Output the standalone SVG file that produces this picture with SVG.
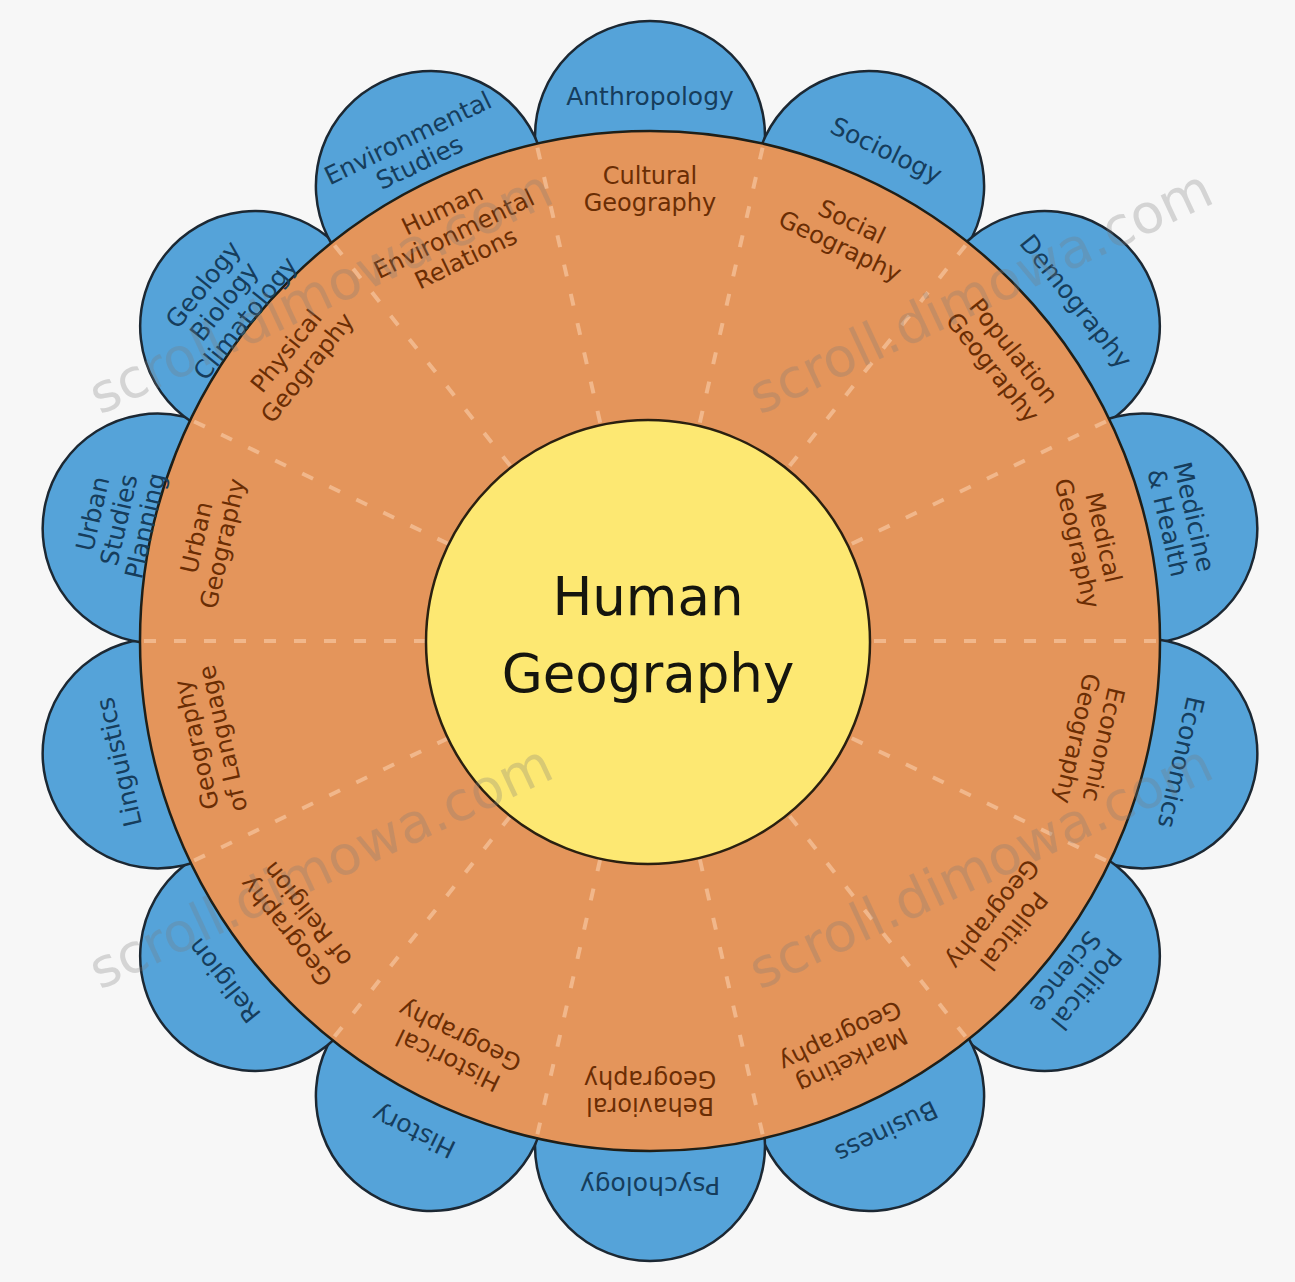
<svg xmlns="http://www.w3.org/2000/svg" width="1295" height="1282" viewBox="0 0 1295 1282">
<style>
.petal{fill:#55a3d9;stroke:#1c2833;stroke-width:2.5}
.pt{font-family:"DejaVu Sans",sans-serif;font-size:25px;fill:#163d5c;text-anchor:middle}
.ot{font-family:"DejaVu Sans",sans-serif;font-size:24px;fill:#6a2d04;text-anchor:middle}
.div{stroke:#f6c39b;stroke-width:4;stroke-dasharray:12 18;fill:none;stroke-opacity:0.75}
.wm{font-family:"DejaVu Sans",sans-serif;font-size:54px;fill:#7a7a7a;fill-opacity:0.28}
</style>
<rect width="1295" height="1282" fill="#f7f7f7"/>
<g id="petals">
<g id="p-anthropology"><circle class="petal" cx="650" cy="136" r="115" transform="rotate(0 650 641)"/></g>
<g id="p-sociology"><circle class="petal" cx="650" cy="136" r="115" transform="rotate(25.714 650 641)"/></g>
<g id="p-demography"><circle class="petal" cx="650" cy="136" r="115" transform="rotate(51.429 650 641)"/></g>
<g id="p-medicine"><circle class="petal" cx="650" cy="136" r="115" transform="rotate(77.143 650 641)"/></g>
<g id="p-economics"><circle class="petal" cx="650" cy="136" r="115" transform="rotate(102.857 650 641)"/></g>
<g id="p-political"><circle class="petal" cx="650" cy="136" r="115" transform="rotate(128.571 650 641)"/></g>
<g id="p-business"><circle class="petal" cx="650" cy="136" r="115" transform="rotate(154.286 650 641)"/></g>
<g id="p-psychology"><circle class="petal" cx="650" cy="136" r="115" transform="rotate(180 650 641)"/></g>
<g id="p-history"><circle class="petal" cx="650" cy="136" r="115" transform="rotate(205.714 650 641)"/></g>
<g id="p-religion"><circle class="petal" cx="650" cy="136" r="115" transform="rotate(231.429 650 641)"/></g>
<g id="p-linguistics"><circle class="petal" cx="650" cy="136" r="115" transform="rotate(257.143 650 641)"/></g>
<g id="p-urban"><circle class="petal" cx="650" cy="136" r="115" transform="rotate(282.857 650 641)"/></g>
<g id="p-geology"><circle class="petal" cx="650" cy="136" r="115" transform="rotate(308.571 650 641)"/></g>
<g id="p-environmental"><circle class="petal" cx="650" cy="136" r="115" transform="rotate(334.286 650 641)"/></g>
</g>
<g id="ring"><circle cx="650" cy="641" r="510" fill="#e4955b" stroke="#1f1f18" stroke-width="2.5"/></g>
<g id="dividers">
<line class="div" x1="650" y1="417" x2="650" y2="133" transform="rotate(12.857 650 641)"/>
<line class="div" x1="650" y1="417" x2="650" y2="133" transform="rotate(38.571 650 641)"/>
<line class="div" x1="650" y1="417" x2="650" y2="133" transform="rotate(64.286 650 641)"/>
<line class="div" x1="650" y1="417" x2="650" y2="133" transform="rotate(90 650 641)"/>
<line class="div" x1="650" y1="417" x2="650" y2="133" transform="rotate(115.714 650 641)"/>
<line class="div" x1="650" y1="417" x2="650" y2="133" transform="rotate(141.429 650 641)"/>
<line class="div" x1="650" y1="417" x2="650" y2="133" transform="rotate(167.143 650 641)"/>
<line class="div" x1="650" y1="417" x2="650" y2="133" transform="rotate(192.857 650 641)"/>
<line class="div" x1="650" y1="417" x2="650" y2="133" transform="rotate(218.571 650 641)"/>
<line class="div" x1="650" y1="417" x2="650" y2="133" transform="rotate(244.286 650 641)"/>
<line class="div" x1="650" y1="417" x2="650" y2="133" transform="rotate(270 650 641)"/>
<line class="div" x1="650" y1="417" x2="650" y2="133" transform="rotate(295.714 650 641)"/>
<line class="div" x1="650" y1="417" x2="650" y2="133" transform="rotate(321.429 650 641)"/>
<line class="div" x1="650" y1="417" x2="650" y2="133" transform="rotate(347.143 650 641)"/>
</g>
<g id="center"><circle cx="648" cy="642" r="222" fill="#fde872" stroke="#2a2010" stroke-width="2.5"/>
<text x="648" y="615" font-family="DejaVu Sans, sans-serif" font-size="53" fill="#15150e" text-anchor="middle">Human</text>
<text x="648" y="692" font-family="DejaVu Sans, sans-serif" font-size="53" fill="#15150e" text-anchor="middle">Geography</text>
</g>
<g id="petal-labels">
<g id="l-anthropology" transform="rotate(0 650 641)"><text class="pt" x="650" y="105">Anthropology</text></g>
<g id="l-sociology" transform="rotate(25.714 650 641)"><text class="pt" x="650" y="105">Sociology</text></g>
<g id="l-demography" transform="rotate(51.429 650 641)"><text class="pt" x="650" y="105">Demography</text></g>
<g id="l-medicine" transform="rotate(77.143 650 641)"><text class="pt" x="650" y="91.5">Medicine</text><text class="pt" x="650" y="118.5">&amp; Health</text></g>
<g id="l-economics" transform="rotate(102.857 650 641)"><text class="pt" x="650" y="105">Economics</text></g>
<g id="l-political" transform="rotate(128.571 650 641)"><text class="pt" x="650" y="91.5">Political</text><text class="pt" x="650" y="118.5">Science</text></g>
<g id="l-business" transform="rotate(154.286 650 641)"><text class="pt" x="650" y="105">Business</text></g>
<g id="l-psychology" transform="rotate(180 650 641)"><text class="pt" x="650" y="105">Psychology</text></g>
<g id="l-history" transform="rotate(205.714 650 641)"><text class="pt" x="650" y="105">History</text></g>
<g id="l-religion" transform="rotate(231.429 650 641)"><text class="pt" x="650" y="105">Religion</text></g>
<g id="l-linguistics" transform="rotate(257.143 650 641)"><text class="pt" x="650" y="105">Linguistics</text></g>
<g id="l-urban" transform="rotate(282.857 650 641)"><text class="pt" x="650" y="78">Urban</text><text class="pt" x="650" y="105">Studies</text><text class="pt" x="650" y="132">Planning</text></g>
<g id="l-geology" transform="rotate(308.571 650 641)"><text class="pt" x="650" y="78">Geology</text><text class="pt" x="650" y="105">Biology</text><text class="pt" x="650" y="132">Climatology</text></g>
<g id="l-environmental" transform="rotate(334.286 650 641)"><text class="pt" x="650" y="91.5">Environmental</text><text class="pt" x="650" y="118.5">Studies</text></g>
</g>
<g id="ring-labels">
<g id="s-cultural" transform="rotate(0 650 641)"><text class="ot" x="650" y="184">Cultural</text><text class="ot" x="650" y="211">Geography</text></g>
<g id="s-social" transform="rotate(25.714 650 641)"><text class="ot" x="650" y="184">Social</text><text class="ot" x="650" y="211">Geography</text></g>
<g id="s-population" transform="rotate(51.429 650 641)"><text class="ot" x="650" y="184">Population</text><text class="ot" x="650" y="211">Geography</text></g>
<g id="s-medical" transform="rotate(77.143 650 641)"><text class="ot" x="650" y="184">Medical</text><text class="ot" x="650" y="211">Geography</text></g>
<g id="s-economic" transform="rotate(102.857 650 641)"><text class="ot" x="650" y="184">Economic</text><text class="ot" x="650" y="211">Geography</text></g>
<g id="s-political" transform="rotate(128.571 650 641)"><text class="ot" x="650" y="184">Political</text><text class="ot" x="650" y="211">Geography</text></g>
<g id="s-marketing" transform="rotate(154.286 650 641)"><text class="ot" x="650" y="184">Marketing</text><text class="ot" x="650" y="211">Geography</text></g>
<g id="s-behavioral" transform="rotate(180 650 641)"><text class="ot" x="650" y="184">Behavioral</text><text class="ot" x="650" y="211">Geography</text></g>
<g id="s-historical" transform="rotate(205.714 650 641)"><text class="ot" x="650" y="184">Historical</text><text class="ot" x="650" y="211">Geography</text></g>
<g id="s-religion" transform="rotate(231.429 650 641)"><text class="ot" x="650" y="184">Geography</text><text class="ot" x="650" y="211">of Religion</text></g>
<g id="s-language" transform="rotate(257.143 650 641)"><text class="ot" x="650" y="184">Geography</text><text class="ot" x="650" y="211">of Language</text></g>
<g id="s-urban" transform="rotate(282.857 650 641)"><text class="ot" x="650" y="184">Urban</text><text class="ot" x="650" y="211">Geography</text></g>
<g id="s-physical" transform="rotate(308.571 650 641)"><text class="ot" x="650" y="184">Physical</text><text class="ot" x="650" y="211">Geography</text></g>
<g id="s-human-env" transform="rotate(334.286 650 641)"><text class="ot" x="650" y="170.5">Human</text><text class="ot" x="650" y="197.5">Environmental</text><text class="ot" x="650" y="224.5">Relations</text></g>
</g>
<g id="watermarks">
<text class="wm" x="100" y="415" transform="rotate(-25 100 415)">scroll.dimowa.com</text>
<text class="wm" x="760" y="415" transform="rotate(-25 760 415)">scroll.dimowa.com</text>
<text class="wm" x="100" y="990" transform="rotate(-25 100 990)">scroll.dimowa.com</text>
<text class="wm" x="760" y="990" transform="rotate(-25 760 990)">scroll.dimowa.com</text>
</g>
</svg>
